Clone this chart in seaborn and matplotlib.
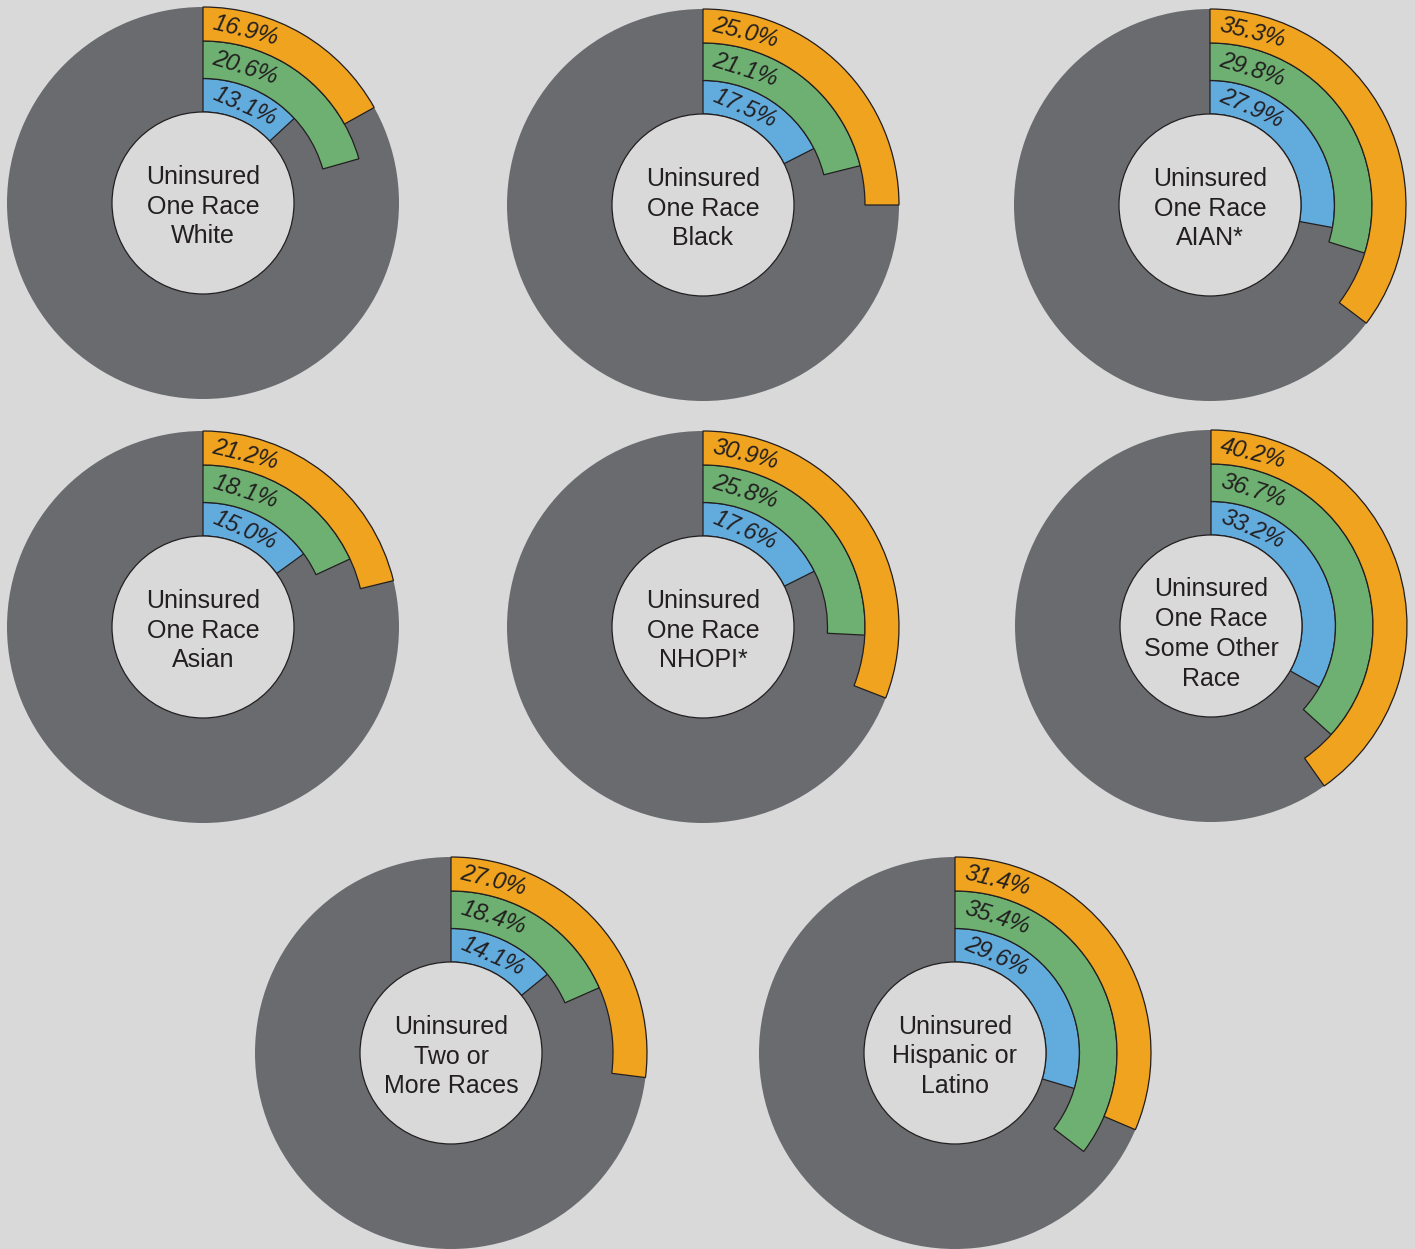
import numpy as np
import matplotlib
matplotlib.use("Agg")
import matplotlib.pyplot as plt
from matplotlib.font_manager import FontProperties
import seaborn as sns

# Data: uninsured rates by race / Hispanic origin (three rings per group)
groups = [
    "Uninsured\nOne Race\nWhite",
    "Uninsured\nOne Race\nBlack",
    "Uninsured\nOne Race\nAIAN*",
    "Uninsured\nOne Race\nAsian",
    "Uninsured\nOne Race\nNHOPI*",
    "Uninsured\nOne Race\nSome Other\nRace",
    "Uninsured\nTwo or\nMore Races",
    "Uninsured\nHispanic or\nLatino",
]
blue_vals = [13.1, 17.5, 27.9, 15.0, 17.6, 33.2, 14.1, 29.6]
green_vals = [20.6, 21.1, 29.8, 18.1, 25.8, 36.7, 18.4, 35.4]
orange_vals = [16.9, 25.0, 35.3, 21.2, 30.9, 40.2, 27.0, 31.4]

# Style
sns.set_theme(style="white")
plt.rcParams["font.family"] = ["Liberation Sans", "DejaVu Sans"]

BG = "#d9d9d9"
DISC = "#6a6b6f"
EDGE = "#231f20"
ring_colors = ["#62abdd", "#6db071", "#efa31f"]

W, H = 1415, 1249
# donut centres in pixels (from top-left)
centres = [(203, 203), (703, 205), (1210, 205),
           (203, 627), (703, 627), (1211, 626),
           (451, 1053), (955, 1053)]
HALF = 205
R_EDGES = [91, 124.5, 162, 196]

fig = plt.figure(figsize=(W / 100, H / 100), dpi=100)
fig.patch.set_facecolor(BG)
renderer = fig.canvas.get_renderer()
lab_font = FontProperties(family="Liberation Sans", style="italic", size=17)

for i, label in enumerate(groups):
    cx, cy = centres[i]
    ax = fig.add_axes([(cx - HALF) / W, 1 - (cy + HALF) / H, 2 * HALF / W, 2 * HALF / H])

    # grey background disc
    ax.pie([1], radius=R_EDGES[-1], colors=[DISC], startangle=90,
           wedgeprops=dict(linewidth=0))

    vals = [blue_vals[i], green_vals[i], orange_vals[i]]
    for k, v in enumerate(vals):
        r_in, r_out = R_EDGES[k], R_EDGES[k + 1]
        ax.pie([v / 100], normalize=False, radius=r_out, colors=[ring_colors[k]],
               startangle=90, counterclock=False,
               wedgeprops=dict(width=r_out - r_in, edgecolor=EDGE, linewidth=0.9))

        # label sits along the top of the ring, just right of 12 o'clock
        txt = f"{v:.1f}%"
        w_px = renderer.get_text_width_height_descent(txt, lab_font, ismath=False)[0]
        r_b = (r_in + r_out) / 2 - 6.5
        a = (8 + w_px / 2) / r_b
        half_span = w_px / (2 * r_b)
        r_t = r_b * (1 + np.cos(half_span)) / 2
        ax.text(r_t * np.sin(a), r_t * np.cos(a), txt, fontproperties=lab_font,
                rotation=-np.degrees(a), rotation_mode="anchor",
                ha="center", va="baseline", color=EDGE)

    # centre hole
    ax.add_patch(plt.Circle((0, 0), R_EDGES[0], facecolor=BG, edgecolor=EDGE,
                            linewidth=0.9, zorder=5))
    n_lines = label.count("\n") + 1
    ax.text(0, -3.5 - 4.5 * (n_lines - 3), label, ha="center", va="center",
            fontsize=18, color=EDGE, linespacing=1.3, zorder=6)

    ax.set_xlim(-HALF, HALF)
    ax.set_ylim(-HALF, HALF)
    ax.set_aspect("equal")
    ax.axis("off")

fig.savefig("out.png", dpi=100, facecolor=BG)
